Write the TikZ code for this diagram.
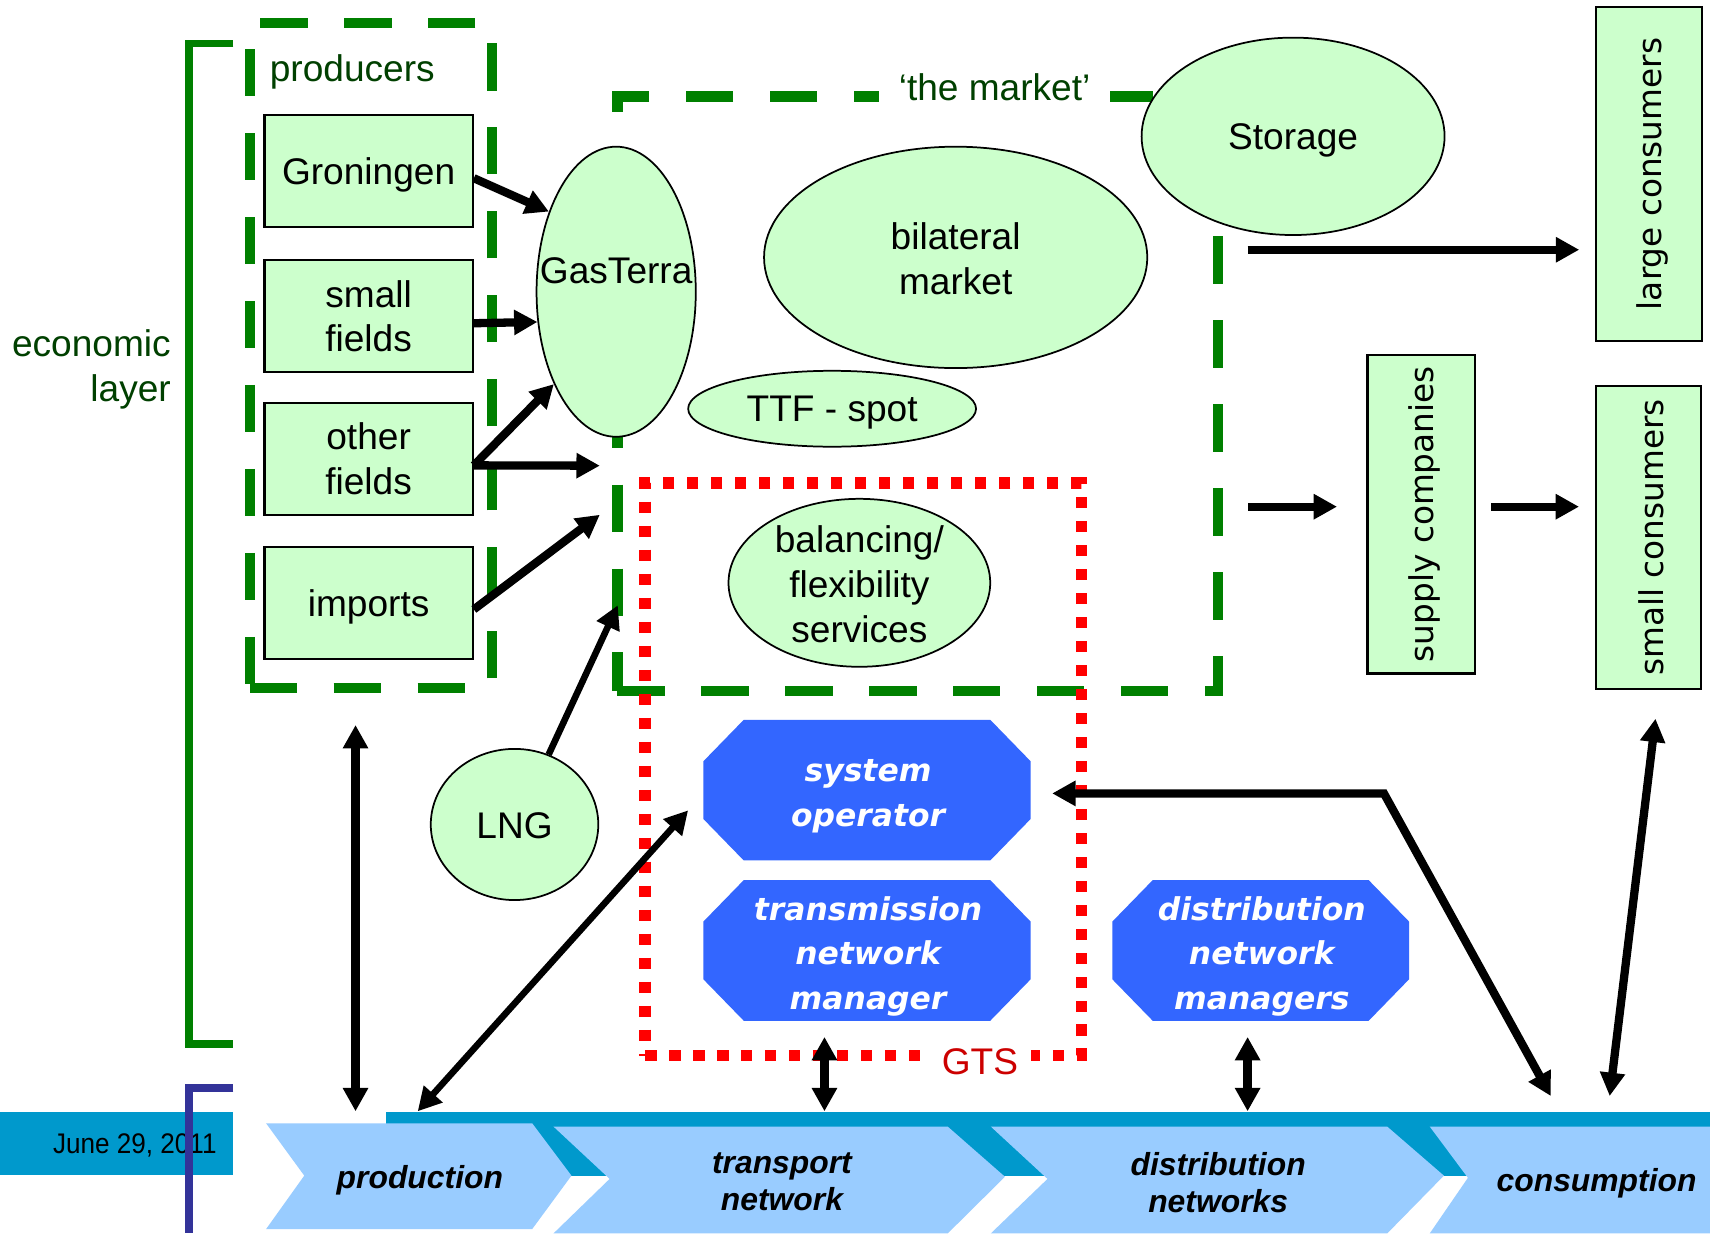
\documentclass[tikz,border=0pt]{standalone}
\usepackage{graphicx}
\usepackage{fontspec}
\setmainfont{Liberation Sans}
\newfontfamily\vfam{DejaVu Sans}[BoldFont={DejaVu Sans Bold},ItalicFont={DejaVu Sans Oblique},BoldItalicFont={DejaVu Sans Bold Oblique}]
\usetikzlibrary{arrows.meta,shapes.geometric}

\definecolor{lgreen}{HTML}{CCFFCC}
\definecolor{mgreen}{RGB}{0,128,0}
\definecolor{dgreen}{RGB}{0,64,0}
\definecolor{octblue}{HTML}{3366FF}
\definecolor{bandteal}{HTML}{0099CC}
\definecolor{chevblue}{HTML}{99CCFF}
\definecolor{navyline}{RGB}{51,51,153}
\definecolor{gtsred}{RGB}{204,0,0}

\newcommand\lbfont{\fontsize{17}{20.5}\selectfont}
\newcommand\octfont{\vfam\bfseries\itshape\fontsize{14.4}{20.5}\selectfont}
\newcommand\chevfont{\bfseries\itshape\fontsize{14.6}{17}\selectfont}
\newcommand\vfont{\vfam\fontsize{15}{18}\selectfont}
\newcommand\datefont{\fontsize{13}{15}\selectfont}

\tikzset{
  tipA/.tip={Triangle[length=10.7pt,width=11pt]},
  arr/.style={line width=3.8pt,-tipA},
  dbl/.style={line width=3.8pt,tipA-tipA},
  thinner/.style={line width=3pt},
  lbl/.style={font=\lbfont,align=center,inner sep=0pt},
  pbox/.style={draw,line width=1pt,fill=lgreen,minimum width=95.5pt,minimum height=51.4pt,
    inner sep=0pt,font=\lbfont,align=center},
  ell/.style={ellipse,draw,line width=0.8pt,fill=lgreen,inner sep=0pt},
  vbox/.style={draw,line width=1pt,fill=lgreen,inner sep=0pt,font=\vfont},
  mdash/.style={draw=mgreen,line width=4.8pt,dash pattern=on 21.7pt off 16.8pt,inner sep=0pt},
  rdot/.style={draw=red,line width=5.2pt,dash pattern=on 5.3pt off 5.7pt,inner sep=0pt},
  chevlbl/.style={font=\chevfont,align=center,inner sep=0pt},
  octlbl/.style={font=\octfont,align=center,inner sep=0pt,text=white},
  oct/.style={minimum height=64.5pt,inner sep=0pt,
    path picture={\fill[octblue]
      ([xshift=18.5pt]path picture bounding box.north west) --
      ([xshift=-18.5pt]path picture bounding box.north east) --
      ([yshift=-19pt]path picture bounding box.north east) --
      ([yshift=19pt]path picture bounding box.south east) --
      ([xshift=-18.5pt]path picture bounding box.south east) --
      ([xshift=18.5pt]path picture bounding box.south west) --
      ([yshift=19pt]path picture bounding box.south west) --
      ([yshift=-19pt]path picture bounding box.north west) -- cycle;}},
}

\begin{document}
\begin{tikzpicture}[x=0.5pt,y=-0.5pt]
\useasboundingbox (0,0) rectangle (1568,1131);
\fill[white] (0,0) rectangle (1568,1131);

% value chain band along the bottom
\fill[bandteal] (0,1020) rectangle (214,1077);
\node[anchor=east,font=\datefont,inner sep=0pt] (date) at (199,1050) {\scalebox{0.92}[1]{June 29, 2011}};
\fill[bandteal] (354,1020) rectangle (1568,1078);
\fill[chevblue] (244,1030) -- (488,1030) -- (524,1078) -- (488,1127) -- (244,1127) -- (279,1078) -- cycle;
\fill[chevblue] (507.5,1033) -- (869,1033) -- (921.5,1079) -- (869,1131) -- (507.5,1131) -- (559,1081) -- cycle;
\fill[chevblue] (908.5,1033) -- (1272,1033) -- (1324,1078) -- (1272,1131) -- (908.5,1131) -- (960.5,1081) -- cycle;
\fill[chevblue] (1311,1033) -- (1568,1033) -- (1568,1131) -- (1311,1131) -- (1346,1080) -- cycle;
\node[chevlbl] (production) at (385,1082) {production};
\node[chevlbl] (transport) at (717,1084) {transport\\network};
\node[chevlbl] (distribution) at (1117,1084) {distribution\\networks};
\node[chevlbl] (consumption) at (1464,1085) {consumption};

% layer brackets
\draw[mgreen,line width=3.5pt] (214,40) -- (173.5,40) -- (173.5,957) -- (214,957);
\draw[navyline,line width=3.5pt] (214,997.5) -- (173.5,997.5) -- (173.5,1131);
\node[anchor=east,align=right,text=dgreen,font=\lbfont,inner sep=0pt] (econ) at (157,339) {economic\\layer};

% grouping frames
\node[mdash,minimum width=111pt,minimum height=305pt] (producers) at (340,326) {};
\node[mdash,minimum width=275.3pt,minimum height=272.5pt] (market) at (841.3,361) {};
\node[rdot,minimum width=200pt,minimum height=262.5pt] (gtsbox) at (791.4,705.5) {};
\node[fill=white,text=dgreen,font=\lbfont,inner xsep=9pt,inner ysep=2pt] (mktlbl) at (912,80) {‘the market’};
\node[fill=white,text=gtsred,font=\lbfont,inner xsep=6pt,inner ysep=1pt] (gts) at (898.5,974) {GTS};
\node[anchor=west,text=dgreen,font=\lbfont,inner sep=0pt] (prodlbl) at (247,66) {producers};

% producers
\node[pbox,text depth=0pt] (gron) at (338,156.8) {Groningen};
\node[pbox] (small) at (338,290) {small\\fields};
\node[pbox] (other) at (338,420.7) {other\\fields};
\node[pbox,text depth=0pt] (imports) at (338,552.8) {imports};

% market places and parties
\node[ell,minimum width=73pt,minimum height=133pt] (gasterra) at (565,267.5) {};
\node[lbl] (gasterraT) at (565,248) {GasTerra};
\node[ell,minimum width=175.7pt,minimum height=101.5pt] (bilateral) at (876.3,236) {};
\node[lbl] (bilateralT) at (876.3,237) {bilateral\\market};
\node[ell,minimum width=138.9pt,minimum height=90.5pt] (storage) at (1185.7,125) {};
\node[lbl] (storageT) at (1185.7,129) {Storage};
\node[ell,minimum width=132pt,minimum height=34.8pt] (ttf) at (763,374.8) {};
\node[lbl] (ttfT) at (763,378) {TTF - spot};
\node[ell,minimum width=120pt,minimum height=77pt] (balancing) at (788,534.4) {};
\node[lbl] (balancingT) at (788,535.7) {balancing/\\flexibility\\services};
\node[ell,minimum width=76.8pt,minimum height=69.3pt] (lng) at (471.8,756) {};
\node[lbl] (lngT) at (471.8,757) {LNG};

% customers
\node[vbox,minimum width=48.3pt,minimum height=152.8pt] (large) at (1512,159.5) {\hspace*{3.5pt}\rotatebox{90}{large consumers}};
\node[vbox,minimum width=49.4pt,minimum height=146pt] (supply) at (1303.4,471.5) {\hspace*{3pt}\rotatebox{90}{supply companies}};
\node[vbox,minimum width=48.5pt,minimum height=139pt] (smallc) at (1511.6,492.7) {\hspace*{3pt}\rotatebox{90}{small consumers}};

% network operators
\node[oct,minimum width=150pt] (so) at (795,724.5) {};
\node[octlbl] (soT) at (796,730) {system\\operator};
\node[oct,minimum width=150pt] (tnm) at (795,871.5) {};
\node[octlbl] (tnmT) at (796,877) {transmission\\network\\manager};
\node[oct,minimum width=136pt] (dnm) at (1156,871.5) {};
\node[octlbl] (dnmT) at (1157,877) {distribution\\network\\managers};

% connector end points
\coordinate (prodTop) at (326,1019);
\coordinate (prodTop2) at (383,1019);
\coordinate (transTop) at (756,1019);
\coordinate (distTop) at (1144,1019);
\coordinate (consTop1) at (1422,1005);
\coordinate (consTop2) at (1476,1005);
\coordinate (mktIn1) at (550,427);
\coordinate (mktIn2) at (550,472);
\coordinate (mktIn3) at (566.5,555);
\coordinate (mktOut1) at (1144,229);
\coordinate (mktOut2) at (1144.6,464.6);
\coordinate (bend) at (1269,727.5);
\coordinate (soIn) at (631,743);
\coordinate (scTop) at (1518,659);

% gas flows
\draw[arr] ([yshift=-3.3pt]gron.east) -- (gasterra.130.7);
\draw[arr] ([yshift=-3.2pt]small.east) -- (gasterra.201);
\draw[arr] ([yshift=-3pt]other.east) -- (gasterra.236);
\draw[arr] ([yshift=-3pt]other.east) -- (mktIn1);
\draw[arr] ([yshift=-3pt]imports.east) -- (mktIn2);
\draw[arr,thinner] (lng.64) -- (mktIn3);
\draw[arr,shorten >=7.3pt] (mktOut1) -- (mktOut1 -| large.west);
\draw[arr,shorten >=13.5pt] (mktOut2) -- (mktOut2 -| supply.west);
\draw[arr,shorten <=6.75pt,shorten >=7.1pt] (mktOut2 -| supply.east) -- (mktOut2 -| smallc.west);

% links between the layers
\draw[dbl,shorten <=14.5pt] (producers.south -| prodTop) -- (prodTop);
\draw[dbl,thinner] (prodTop2) -- (soIn);
\draw[dbl,shorten <=7.2pt] (tnm.south -| transTop) -- (transTop);
\draw[dbl,shorten <=7.2pt] (dnm.south -| distTop) -- (distTop);
\draw[dbl] ([xshift=9.7pt,yshift=-1.5pt]so.east) -- (bend) -- (consTop1);
\draw[dbl] (scTop) -- (consTop2);
\end{tikzpicture}
\end{document}
